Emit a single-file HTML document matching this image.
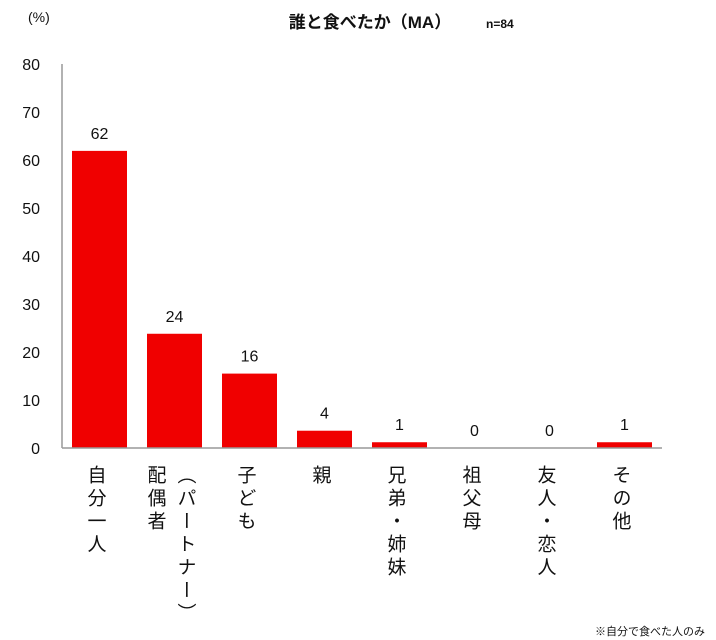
<!DOCTYPE html>
<html><head><meta charset="utf-8"><style>
body{margin:0;background:#fff;width:716px;height:640px;overflow:hidden;font-family:"Liberation Sans","Noto Sans CJK JP",sans-serif;}
svg{position:absolute;left:0;top:0}
.vl{position:absolute;writing-mode:vertical-rl;font-size:19px;line-height:19px;letter-spacing:4px;color:#111;font-family:"Liberation Sans","Noto Sans CJK JP",sans-serif;}
</style></head><body>
<svg id="c" width="716" height="640"></svg>
<div id="labels"></div>
<script>
const categories=[["自分一人"],["配偶者","（パートナー）"],["子ども"],["親"],["兄弟・姉妹"],["祖父母"],["友人・恋人"],["その他"]];
const values=[61.9,23.8,15.5,3.6,1.2,0,0,1.2];
const valueLabels=["62","24","16","4","1","0","0","1"];
const yTicks=[0,10,20,30,40,50,60,70,80];
const NS="http://www.w3.org/2000/svg";
const svg=document.getElementById('c');
const x0=62,y0=448,yTop=64,step=75,bw=55;
const y=v=>y0-(v/80)*(y0-yTop);
const xc=i=>x0+step*i+step/2;
function el(t,a,txt){const e=document.createElementNS(NS,t);for(const k in a)e.setAttribute(k,a[k]);if(txt!==undefined)e.textContent=txt;svg.appendChild(e);return e;}
let t=el('text',{x:370,y:28,'font-size':17,'font-weight':'bold','text-anchor':'middle',fill:'#111'},'誰と食べたか（MA）');

t=el('text',{x:486,y:28,'font-size':12,'font-weight':'bold',fill:'#111'},'n=84');

t=el('text',{x:28,y:22,'font-size':14,fill:'#111'},'(%)');

t=el('text',{x:705,y:635,'font-size':11,'text-anchor':'end',fill:'#111'},'※自分で食べた人のみ');

yTicks.forEach(v=>{const e=el('text',{x:40,y:y(v)+6,'font-size':16,'text-anchor':'end',fill:'#111'},v);
});
values.forEach((v,i)=>{
 const r=el('rect',{x:xc(i)-bw/2,y:y(v),width:bw,height:y0-y(v),fill:'#f00000'});
 
 const l=el('text',{x:xc(i),y:y(v)-12,'font-size':16,'text-anchor':'middle',fill:'#111'},valueLabels[i]);
 
});
let a=el('line',{x1:x0,y1:yTop,x2:x0,y2:y0,stroke:'#999','stroke-width':1.5});

a=el('line',{x1:x0,y1:y0,x2:x0+step*8,y2:y0,stroke:'#999','stroke-width':1.5});

const L=document.getElementById('labels');
categories.forEach((cols,i)=>{
 cols.forEach((c,j)=>{
  const d=document.createElement('div');d.className='vl';d.textContent=c;
  const cx=xc(i)-5+(cols.length>1?(j*30-15):0);
  d.style.left=(cx-9)+'px';d.style.top='465px';
  
  
  L.appendChild(d);
 });
});
</script>
</body></html>
